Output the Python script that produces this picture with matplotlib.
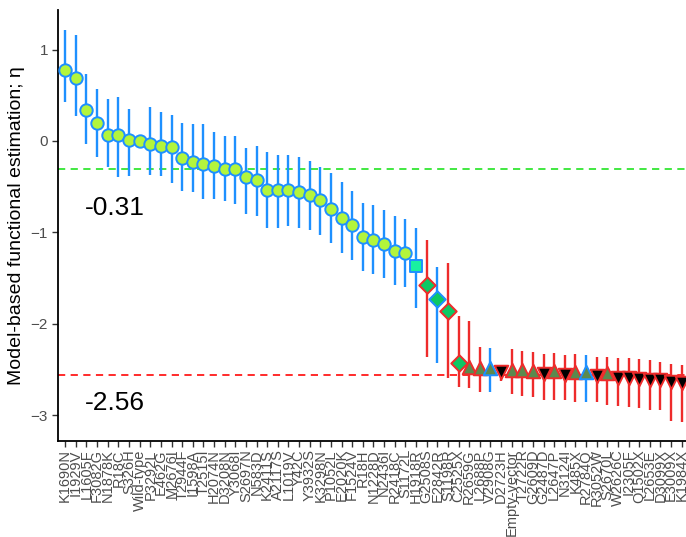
import matplotlib.pyplot as plt

plt.rcParams['font.family'] = ['Liberation Sans', 'DejaVu Sans']

# Variants ordered by estimated functional score
variants = [
    'K1690N', 'I1929V', 'L1605F', 'F3082G', 'N1878K', 'R18C', 'S326H', 'Wild-type',
    'P3292L', 'E462G', 'M2676I', 'T2944F', 'I1598A', 'T2515I', 'H2074N', 'D3208N',
    'Y3068I', 'S2697N', 'N583D', 'K2411S', 'A2117S', 'L1019V', 'Y42C', 'Y3932S',
    'K3298N', 'P1052L', 'E2020K', 'F1524V', 'R18H', 'N1228D', 'N2436I', 'R2418C',
    'S1172L', 'H1918R', 'G2508S', 'E2842R', 'S1198R', 'C2525X', 'R2659G', 'L2688P',
    'V2908G', 'D2723H', 'Empty-vector', 'T2722R', 'G2609D', 'G2487D', 'L2647P',
    'N3124I', 'K485X', 'R2784Q', 'R3052W', 'S2670L', 'W2626C', 'I2305F', 'Q1502X',
    'L2653E', 'D3099X', 'E3009X', 'K1984X',
]

estimate = [
    0.78, 0.69, 0.34, 0.20, 0.07, 0.07, 0.01, 0.00,
    -0.03, -0.05, -0.07, -0.19, -0.23, -0.25, -0.27, -0.31,
    -0.31, -0.39, -0.43, -0.54, -0.54, -0.54, -0.56, -0.59,
    -0.65, -0.74, -0.84, -0.92, -1.05, -1.08, -1.13, -1.20,
    -1.22, -1.37, -1.58, -1.73, -1.86, -2.43, -2.47, -2.48,
    -2.48, -2.53, -2.50, -2.51, -2.52, -2.55, -2.52, -2.56,
    -2.53, -2.53, -2.57, -2.54, -2.59, -2.59, -2.60, -2.61,
    -2.61, -2.64, -2.65,
]

upper = [
    1.21, 1.16, 0.73, 0.57, 0.46, 0.48, 0.35, 0.00,
    0.37, 0.32, 0.28, 0.20, 0.19, 0.19, 0.10, 0.05,
    0.05, -0.08, -0.05, -0.12, -0.15, -0.15, -0.18, -0.22,
    -0.28, -0.35, -0.45, -0.55, -0.68, -0.70, -0.75, -0.82,
    -0.85, -0.95, -1.08, -1.38, -1.33, -1.91, -1.97, -2.25,
    -2.26, -2.46, -2.28, -2.30, -2.31, -2.33, -2.32, -2.34,
    -2.33, -2.34, -2.36, -2.36, -2.37, -2.37, -2.39, -2.40,
    -2.42, -2.44, -2.45,
]

lower = [
    0.43, 0.27, -0.03, -0.17, -0.28, -0.39, -0.38, 0.00,
    -0.37, -0.38, -0.46, -0.55, -0.56, -0.63, -0.63, -0.66,
    -0.69, -0.80, -0.82, -0.95, -0.95, -0.93, -0.95, -0.97,
    -1.03, -1.12, -1.22, -1.30, -1.42, -1.45, -1.50, -1.58,
    -1.60, -1.83, -2.36, -2.43, -2.59, -2.69, -2.70, -2.74,
    -2.75, -2.62, -2.77, -2.79, -2.80, -2.83, -2.83, -2.83,
    -2.85, -2.86, -2.86, -2.89, -2.90, -2.91, -2.92, -2.94,
    -2.94, -3.06, -3.07,
]

# marker class: c circle, s square, d diamond, u up-triangle, v down-triangle
marker_class = (['c'] * 33 + ['s'] + ['d'] * 4 +
                ['u', 'u', 'u', 'v', 'u', 'u', 'u', 'v', 'u', 'v', 'u', 'u', 'v', 'u'] +
                ['v'] * 7)
# outline / interval colour group
bar_group = (['b'] * 34 + ['r', 'b', 'r', 'r'] +
             ['r', 'r', 'b', 'r', 'r', 'r', 'r', 'r', 'r', 'r', 'r', 'b', 'r', 'r'] +
             ['r'] * 7)

mean_high = -0.31
mean_low = -2.56

line_cols = {'b': '#1E90FF', 'r': '#EE2B2B'}
styles = {
    'c': dict(marker='o', fc='#B3F53C', s=80),
    's': dict(marker='s', fc='#19F0A0', s=75),
    'd': dict(marker='D', fc='#0DC864', s=70),
    'u': dict(marker='^', fc='#5B8A4E', s=95),
    'v': dict(marker='v', fc='black', s=95),
}

fig = plt.figure(figsize=(6.86, 5.37), dpi=100)
ax = fig.add_axes([0.085, 0.179, 0.915, 0.802])

x = list(range(len(variants)))

ax.axhline(mean_high, color='#33E633', lw=1.3, dashes=(4, 3), zorder=1)
ax.axhline(mean_low, color='#FF1A1A', lw=1.3, dashes=(4, 3), zorder=1)

for i in x:
    ax.vlines(i, lower[i], upper[i], color=line_cols[bar_group[i]], lw=1.7, zorder=2)

for i in x:
    st = styles[marker_class[i]]
    ax.scatter(i, estimate[i], marker=st['marker'], s=st['s'], facecolor=st['fc'],
               edgecolor=line_cols[bar_group[i]], linewidths=1.4, zorder=3)

ax.text(4.7, -0.73, f'{mean_high:.2f}', fontsize=19, ha='center', va='center')
ax.text(4.7, -2.87, f'{mean_low:.2f}', fontsize=19, ha='center', va='center')

ax.set_xlim(-0.65, 58.4)
ax.set_ylim(-3.28, 1.43)
ax.set_yticks([-3, -2, -1, 0, 1])
ax.set_xticks(x)
ax.set_xticklabels(variants, rotation=90, fontsize=10.5, color='#4D4D4D')
ax.tick_params(axis='y', labelsize=11, labelcolor='#4D4D4D', length=4, width=1, color='#333333')
ax.tick_params(axis='x', length=4, width=1, color='#333333', pad=2)
ax.set_ylabel('Model-based functional estimation; η', fontsize=14, labelpad=4)

for side in ['top', 'right']:
    ax.spines[side].set_visible(False)
for side in ['left', 'bottom']:
    ax.spines[side].set_linewidth(1.3)

fig.savefig('out.png', dpi=100)
